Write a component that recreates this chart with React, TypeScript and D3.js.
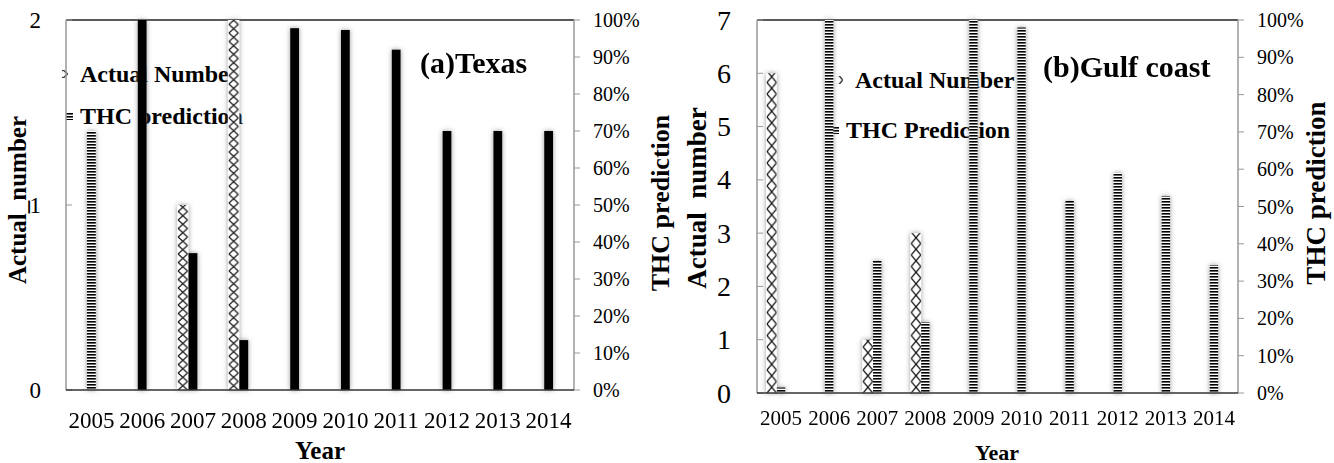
import React from 'react';
import * as d3 from 'd3';

// values
const years = ['2005', '2006', '2007', '2008', '2009', '2010', '2011', '2012', '2013', '2014'];
const texasActual = [0, 0, 1, 2, 0, 0, 0, 0, 0, 0];
const texasThc = [0.7, 1.0, 0.37, 0.135, 0.978, 0.973, 0.92, 0.7, 0.7, 0.7];
const gulfActual = [6, 0, 1, 3, 0, 0, 0, 0, 0, 0];
const gulfThc = [0.015, 1.0, 0.354, 0.19, 1.0, 0.98, 0.515, 0.59, 0.528, 0.343];
const texasTicks = [0, 1, 2];
const gulfTicks = [0, 1, 2, 3, 4, 5, 6, 7];
const pctTicks = [0, 0.1, 0.2, 0.3, 0.4, 0.5, 0.6, 0.7, 0.8, 0.9, 1];

const FONT = "'Liberation Serif', 'Times New Roman', serif";

interface PanelProps {
  id: string;
  box: { x0: number; x1: number; y0: number; y1: number };
  actual: number[];
  thc: number[];
  ticks: number[];
  tickFont: number;
  tickGap: number;
  yearFont: number;
  yearY: number;
  thcFill: (i: number) => string;
  title: string;
  titleX: number;
  titleY: number;
  legend: { actX: number; actY: number; thcX: number; thcY: number; thcLabel: string };
  leftTitle: { text: string; x: number; y: number; size: number };
  rightTitle: { x: number; y: number; size: number };
  yearTitle: { x: number; y: number; size: number };
}

const Panel: React.FC<PanelProps> = (p) => {
  const { x0, x1, y0, y1 } = p.box;
  const x = d3.scaleBand<string>().domain(years).range([x0, x1]).padding(0);
  const yL = d3.scaleLinear().domain([0, d3.max(p.ticks) as number]).range([y1, y0]);
  const yR = d3.scaleLinear().domain([0, 1]).range([y1, y0]);
  const bw = x.bandwidth();
  const thcW = bw * 0.175;
  const actW = bw * 0.225;
  const pct = d3.format('.0%');

  return (
    <g fontFamily={FONT}>
      {/* legend (drawn under the bars) */}
      <g fontWeight="bold" fontSize={24}>
        <g transform={`translate(${p.legend.actX},${p.legend.actY})`}>
          <rect x={-18} y={-4} width={6} height={8} fill={`url(#${p.id}-cross)`} />
          <text x={0} y={0} dominantBaseline="central">Actual Number</text>
        </g>
        <g transform={`translate(${p.legend.thcX},${p.legend.thcY})`}>
          <rect x={-14} y={-4} width={7} height={8} fill={`url(#${p.id}-stripe)`} />
          <text x={0} y={0} dominantBaseline="central">{p.legend.thcLabel}</text>
        </g>
      </g>

      {/* plot frame */}
      <line x1={x0} x2={x1} y1={y0} y2={y0} stroke="#222" strokeWidth={1.5} />
      <line x1={x0} x2={x0} y1={y0} y2={y1} stroke="#999" strokeWidth={1.5} />
      <line x1={x1} x2={x1} y1={y0} y2={y1} stroke="#999" strokeWidth={1.5} />

      {/* left axis */}
      {p.ticks.map((t) => (
        <g key={t}>
          <line x1={x0} x2={x0 + 6} y1={yL(t)} y2={yL(t)} stroke="#999" />
          <text x={x0 - p.tickGap} y={yL(t)} textAnchor="end" dominantBaseline="central" fontSize={p.tickFont}>
            {t}
          </text>
        </g>
      ))}

      {/* right axis */}
      {pctTicks.map((t) => (
        <g key={t}>
          <line x1={x1} x2={x1 + 6} y1={yR(t)} y2={yR(t)} stroke="#999" />
          <text x={x1 + 19} y={yR(t)} dominantBaseline="central" fontSize={20}>
            {pct(t)}
          </text>
        </g>
      ))}

      {/* bars */}
      <g filter={`url(#${p.id}-shadow)`}>
        {years.map((yr, i) => {
          const c = (x(yr) as number) + bw / 2;
          const hA = y1 - yL(p.actual[i]);
          const hT = y1 - yR(p.thc[i]);
          return (
            <g key={yr}>
              {hA > 0 && (
                <g transform={`translate(${c - thcW / 2 - actW},${y1})`}>
                  <rect x={0} y={-hA} width={actW} height={hA} fill={`url(#${p.id}-cross)`} />
                </g>
              )}
              {hT > 0 && (
                <g transform={`translate(${c - thcW / 2},${y1})`}>
                  <rect x={0} y={-hT} width={thcW} height={hT} fill={p.thcFill(i)} />
                </g>
              )}
            </g>
          );
        })}
      </g>

      <line x1={x0} x2={x1} y1={y1} y2={y1} stroke="#333" strokeWidth={1.5} />

      {/* year labels */}
      {years.map((yr) => (
        <text
          key={yr}
          x={(x(yr) as number) + bw / 2}
          y={p.yearY}
          textAnchor="middle"
          dominantBaseline="central"
          fontSize={p.yearFont}
        >
          {yr}
        </text>
      ))}

      {/* titles */}
      <text x={p.titleX} y={p.titleY} dominantBaseline="central" fontWeight="bold" fontSize={30}>
        {p.title}
      </text>
      <text
        transform={`translate(${p.leftTitle.x},${p.leftTitle.y}) rotate(-90)`}
        textAnchor="middle"
        dominantBaseline="central"
        fontWeight="bold"
        fontSize={p.leftTitle.size}
        style={{ whiteSpace: 'pre' }}
      >
        {p.leftTitle.text}
      </text>
      <text
        transform={`translate(${p.rightTitle.x},${p.rightTitle.y}) rotate(-90)`}
        textAnchor="middle"
        dominantBaseline="central"
        fontWeight="bold"
        fontSize={p.rightTitle.size}
      >
        THC prediction
      </text>
      <text
        x={p.yearTitle.x}
        y={p.yearTitle.y}
        textAnchor="middle"
        dominantBaseline="central"
        fontWeight="bold"
        fontSize={p.yearTitle.size}
      >
        Year
      </text>
    </g>
  );
};

const Defs: React.FC<{ id: string; tileH: number }> = ({ id, tileH }) => (
  <>
    <pattern id={`${id}-cross`} patternUnits="userSpaceOnUse" width={11.4} height={tileH} y={0}>
      <rect width={11.4} height={tileH} fill="#fff" />
      <path d={`M1,0 L10.4,${tileH} M10.4,0 L1,${tileH}`} stroke="#111" strokeWidth={1.2} />
    </pattern>
    <pattern id={`${id}-stripe`} patternUnits="userSpaceOnUse" width={10} height={3}>
      <rect width={10} height={3} fill="#fff" />
      <rect width={10} height={1.6} fill="#000" />
    </pattern>
    <filter id={`${id}-shadow`} x="-50%" y="-5%" width="200%" height="110%">
      <feGaussianBlur in="SourceAlpha" stdDeviation={2.6} result="b" />
      <feFlood floodColor="#777" floodOpacity={0.75} />
      <feComposite in2="b" operator="in" result="s" />
      <feMerge>
        <feMergeNode in="s" />
        <feMergeNode in="SourceGraphic" />
      </feMerge>
    </filter>
  </>
);

export default function App() {
  return (
    <svg
      width={1334}
      height={463}
      style={{ position: 'absolute', left: 0, top: 0, background: '#fff' }}
    >
      <defs>
        <Defs id="tx" tileH={8.5} />
        <Defs id="gc" tileH={11.5} />
      </defs>
      <Panel
        id="tx"
        box={{ x0: 66, x1: 574, y0: 20, y1: 390 }}
        actual={texasActual}
        thc={texasThc}
        ticks={texasTicks}
        tickFont={23}
        tickGap={25}
        yearFont={23}
        yearY={420}
        thcFill={(i) => (i === 0 ? 'url(#tx-stripe)' : '#000')}
        title="(a)Texas"
        titleX={420}
        titleY={62}
        legend={{ actX: 80, actY: 74, thcX: 80, thcY: 116, thcLabel: 'THC prediction' }}
        leftTitle={{ text: 'Actual_number', x: 17, y: 200, size: 25 }}
        rightTitle={{ x: 660, y: 203, size: 26 }}
        yearTitle={{ x: 320, y: 450, size: 25 }}
      />
      <Panel
        id="gc"
        box={{ x0: 757, x1: 1238, y0: 20, y1: 393 }}
        actual={gulfActual}
        thc={gulfThc}
        ticks={gulfTicks}
        tickFont={28}
        tickGap={26}
        yearFont={21}
        yearY={418}
        thcFill={() => 'url(#gc-stripe)'}
        title="(b)Gulf coast"
        titleX={1043}
        titleY={66}
        legend={{ actX: 855, actY: 80, thcX: 846, thcY: 130, thcLabel: 'THC Prediction' }}
        leftTitle={{ text: 'Actual  number', x: 697, y: 198, size: 27 }}
        rightTitle={{ x: 1316, y: 193, size: 27 }}
        yearTitle={{ x: 997, y: 452, size: 22 }}
      />
    </svg>
  );
}
